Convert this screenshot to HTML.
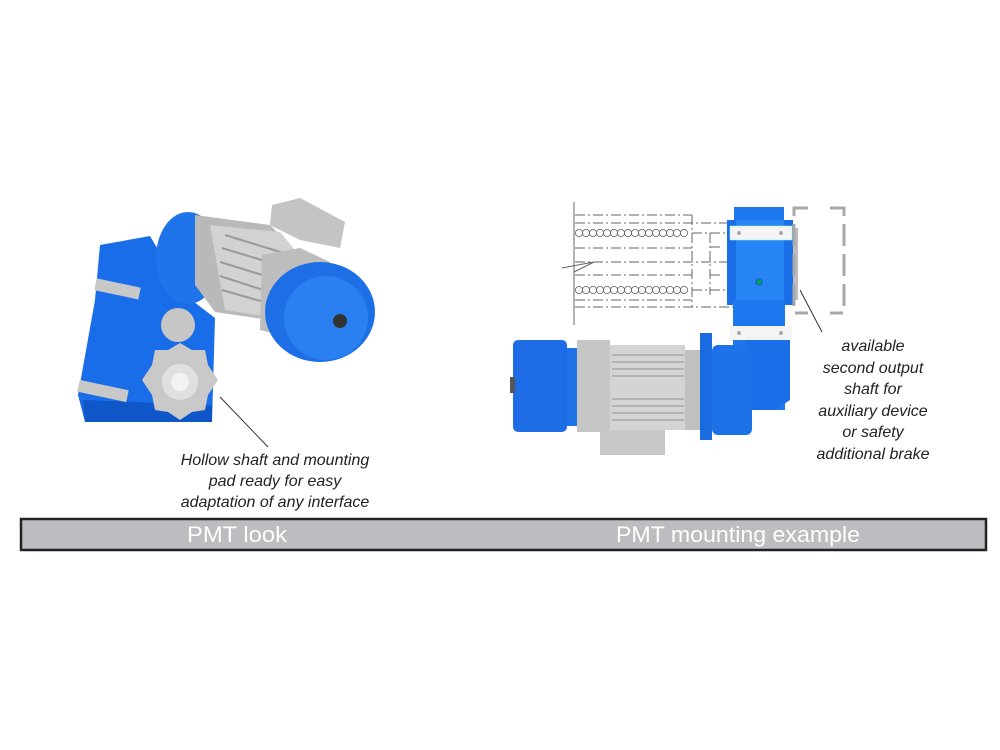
<!DOCTYPE html>
<html><head><meta charset="utf-8"><style>
body{margin:0;background:#fff;width:1000px;height:750px;overflow:hidden;font-family:"Liberation Sans",sans-serif}
svg{position:absolute;left:0;top:0}
.t{font-style:italic;font-size:16px;fill:#222}
</style></head><body>
<svg width="1000" height="750" viewBox="0 0 1000 750">
<!-- LEFT MACHINE -->
<polygon points="100,245 150,236 185,295 215,318 212,422 85,422 78,395 95,300" fill="#1a6de8"/>
<polygon points="83,400 212,405 212,422 85,422" fill="#0f57c8"/>
<rect x="95" y="283" width="45" height="12" fill="#c8c8c8" transform="rotate(12 118 289)"/>
<rect x="78" y="385" width="50" height="12" fill="#c8c8c8" transform="rotate(12 103 391)"/>
<ellipse cx="188" cy="258" rx="32" ry="46" fill="#1f74ea"/>
<polygon points="195,215 270,225 300,255 270,320 215,312 195,285" fill="#b9b9b9"/>
<polygon points="210,225 280,232 305,262 275,318 225,310" fill="#d2d2d2"/>
<g stroke="#9a9a9a" stroke-width="2">
<line x1="225" y1="235" x2="290" y2="255"/><line x1="222" y1="248" x2="288" y2="268"/>
<line x1="220" y1="262" x2="285" y2="282"/><line x1="220" y1="276" x2="282" y2="296"/>
<line x1="222" y1="290" x2="278" y2="306"/></g>
<polygon points="272,205 300,198 345,222 340,248 300,240 270,225" fill="#c4c4c4"/>
<polygon points="262,255 300,248 330,262 300,340 260,330" fill="#bdbdbd"/>
<ellipse cx="320" cy="312" rx="55" ry="50" fill="#1e6fe6"/>
<ellipse cx="326" cy="318" rx="42" ry="42" fill="#2a80f0"/>
<circle cx="340" cy="321" r="7" fill="#333"/>
<circle cx="178" cy="325" r="17" fill="#c6c6c6"/>
<polygon points="180,343 192,350 205,350 208,365 218,380 208,395 205,410 192,412 180,420 168,412 155,410 152,395 142,380 152,365 155,350 168,350" fill="#c9c9c9"/>
<circle cx="180" cy="382" r="18" fill="#e0e0e0"/>
<circle cx="180" cy="382" r="9" fill="#f3f3f3"/>
<line x1="220" y1="397" x2="268" y2="447" stroke="#333" stroke-width="1"/>
<text class="t" x="275" y="465" text-anchor="middle">Hollow shaft and mounting</text>
<text class="t" x="275" y="486" text-anchor="middle">pad ready for easy</text>
<text class="t" x="275" y="507" text-anchor="middle">adaptation of any interface</text>

<!-- RIGHT DRAWING LINES -->
<g stroke="#666" stroke-width="1" fill="none">
<line x1="574" y1="202" x2="574" y2="325"/>
<polyline points="562,268 594,262 574,272"/>
<g stroke-dasharray="10,3,2,3">
<line x1="575" y1="215" x2="692" y2="215"/><line x1="575" y1="223" x2="733" y2="223"/>
<line x1="575" y1="248" x2="692" y2="248"/><line x1="575" y1="262" x2="733" y2="262"/>
<line x1="575" y1="275" x2="692" y2="275"/><line x1="575" y1="300" x2="692" y2="300"/>
<line x1="575" y1="307" x2="733" y2="307"/><line x1="692" y1="215" x2="692" y2="307"/>
<line x1="692" y1="233" x2="733" y2="233"/><line x1="692" y1="290" x2="733" y2="290"/>
<line x1="710" y1="233" x2="710" y2="295"/><line x1="710" y1="247" x2="720" y2="247"/>
<line x1="710" y1="275" x2="720" y2="275"/>
</g>
</g>
<g fill="none" stroke="#666" stroke-width="0.8">
<g id="row">
<circle cx="579" cy="233" r="3.6"/><circle cx="586" cy="233" r="3.6"/><circle cx="593" cy="233" r="3.6"/><circle cx="600" cy="233" r="3.6"/><circle cx="607" cy="233" r="3.6"/><circle cx="614" cy="233" r="3.6"/><circle cx="621" cy="233" r="3.6"/><circle cx="628" cy="233" r="3.6"/><circle cx="635" cy="233" r="3.6"/><circle cx="642" cy="233" r="3.6"/><circle cx="649" cy="233" r="3.6"/><circle cx="656" cy="233" r="3.6"/><circle cx="663" cy="233" r="3.6"/><circle cx="670" cy="233" r="3.6"/><circle cx="677" cy="233" r="3.6"/><circle cx="684" cy="233" r="3.6"/>
</g>
<use href="#row" y="57"/>
</g>
<!-- right gearbox -->
<rect x="734" y="207" width="50" height="20" fill="#1d78f0"/>
<rect x="727" y="220" width="66" height="85" fill="#1a6fe8"/>
<rect x="736" y="220" width="48" height="85" fill="#2784f5"/>
<rect x="733" y="300" width="52" height="110" fill="#1d78f0"/>
<rect x="730" y="226" width="62" height="14" fill="#f4f4f4" stroke="#9fc" stroke-width="0.5"/>
<rect x="730" y="326" width="62" height="14" fill="#f4f4f4"/>
<circle cx="739" cy="233" r="2" fill="#aaa"/><circle cx="781" cy="233" r="2" fill="#aaa"/>
<circle cx="739" cy="333" r="2" fill="#aaa"/><circle cx="781" cy="333" r="2" fill="#aaa"/>
<circle cx="759" cy="282" r="3" fill="#0a4" stroke="#0b5ac8"/>
<rect x="793" y="228" width="5" height="72" fill="#bbb"/>
<g stroke="#a8a8a8" stroke-width="3" fill="none" stroke-dasharray="22,8">
<polyline points="808,208 794,208 794,313 808,313"/>
<polyline points="830,208 844,208 844,313 830,313"/>
</g>
<line x1="800" y1="290" x2="822" y2="332" stroke="#333" stroke-width="1"/>
<!-- motor -->
<polygon points="745,340 790,340 790,400 775,410 745,410" fill="#1a6fe8"/>
<rect x="712" y="345" width="40" height="90" fill="#1d72ea" rx="6"/>
<rect x="700" y="333" width="12" height="107" fill="#1a6ae0"/>
<rect x="685" y="350" width="15" height="80" fill="#c0c0c0"/>
<rect x="610" y="345" width="75" height="85" fill="#d4d4d4"/>
<g stroke="#a8a8a8" stroke-width="1.5">
<line x1="612" y1="355" x2="684" y2="355"/><line x1="612" y1="362" x2="684" y2="362"/><line x1="612" y1="369" x2="684" y2="369"/><line x1="612" y1="376" x2="684" y2="376"/>
<line x1="612" y1="399" x2="684" y2="399"/><line x1="612" y1="406" x2="684" y2="406"/><line x1="612" y1="413" x2="684" y2="413"/><line x1="612" y1="420" x2="684" y2="420"/>
</g>
<rect x="577" y="340" width="33" height="92" fill="#c6c6c6"/>
<rect x="565" y="348" width="12" height="78" fill="#1f74ea"/>
<rect x="513" y="340" width="54" height="92" rx="5" fill="#1e6de6"/>
<rect x="510" y="377" width="5" height="16" fill="#555"/>
<rect x="600" y="430" width="65" height="25" fill="#c8c8c8"/>
<!-- right text -->
<text class="t" x="873" y="351" text-anchor="middle">available</text>
<text class="t" x="873" y="373" text-anchor="middle">second output</text>
<text class="t" x="873" y="394" text-anchor="middle">shaft for</text>
<text class="t" x="873" y="416" text-anchor="middle">auxiliary device</text>
<text class="t" x="873" y="437" text-anchor="middle">or safety</text>
<text class="t" x="873" y="459" text-anchor="middle">additional brake</text>
<!-- bar -->
<rect x="21" y="519" width="965" height="31" fill="#bcbdc0" stroke="#222" stroke-width="2.5"/>
<text x="237" y="542" text-anchor="middle" font-size="22" fill="#fff" textLength="100" lengthAdjust="spacingAndGlyphs">PMT look</text>
<text x="738" y="542" text-anchor="middle" font-size="22" fill="#fff" textLength="244" lengthAdjust="spacingAndGlyphs">PMT mounting example</text>
</svg>
</body></html>
